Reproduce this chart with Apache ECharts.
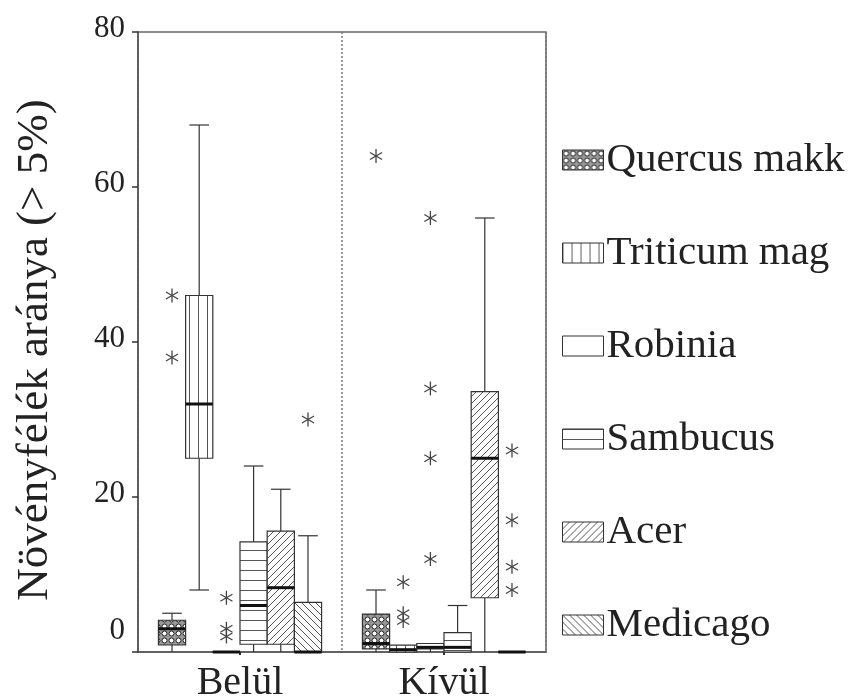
<!DOCTYPE html>
<html><head><meta charset="utf-8">
<script src="https://cdn.jsdelivr.net/npm/echarts@6/dist/echarts.min.js"></script>
<style>html,body{margin:0;padding:0;background:#fff}#c{width:853px;height:697px}</style>
</head><body><div id="c"></div>
<script>
const categories = ['Belül', 'Kívül'];
const species = ['Quercus makk', 'Triticum mag', 'Robinia', 'Sambucus', 'Acer', 'Medicago'];
const yTicks = [0, 20, 40, 60, 80];
// [min, Q1, median, Q3, max] for Belül, Kívül
const quercusBox  = [[0, 0.9, 3, 4.1, 5],    [0, 0.4, 1.1, 4.9, 8]];
const triticumBox = [[8, 25, 32, 46, 68],     [0, 0, 0.3, 0.9, 0.9]];
const robiniaBox  = [[0, 0, 0, 0, 0],         [0, 0.4, 0.6, 1.1, 1.1]];
const sambucusBox = [[0, 1, 6, 14.2, 24],     [0, 0, 0.6, 2.5, 6]];
const acerBox     = [[0, 1, 8.3, 15.6, 21],   [0, 7, 25, 33.6, 56]];
const medicagoBox = [[0, 0, 0, 6.4, 15],      [0, 0, 0, 0, 0]];
// outliers (asterisks) for Belül, Kívül
const quercusOut  = [[46, 38], [64]];
const triticumOut = [[], [9, 5, 4]];
const robiniaOut  = [[7, 3, 2], [56, 34, 25, 12]];
const sambucusOut = [[], []];
const acerOut     = [[], []];
const medicagoOut = [[30], [26, 17, 11, 8]];

const boxes = [quercusBox, triticumBox, robiniaBox, sambucusBox, acerBox, medicagoBox];
const outs = [quercusOut, triticumOut, robiniaOut, sambucusOut, acerOut, medicagoOut];
const kinds = ['dots', 'vline', 'none', 'hline', 'diag', 'diag2'];
const FONT = 'Liberation Serif';
const STROKE = '#333';

function makePattern(kind) {
  const c = document.createElement('canvas');
  let w = 8, h = 8;
  if (kind === 'dots') { w = 7; h = 7; }
  if (kind === 'vline') { w = 9; h = 4; }
  if (kind === 'hline') { w = 4; h = 10; }
  if (kind === 'diag' || kind === 'diag2') { w = 7; h = 7; }
  c.width = w; c.height = h;
  const g = c.getContext('2d');
  g.fillStyle = '#fff'; g.fillRect(0, 0, w, h);
  g.strokeStyle = '#555'; g.lineWidth = 1;
  if (kind === 'dots') {
    g.fillStyle = '#999'; g.fillRect(0, 0, w, h);
    g.beginPath(); g.arc(3.5, 3.5, 2.5, 0, Math.PI * 2);
    g.fillStyle = '#fff'; g.fill(); g.strokeStyle = '#222'; g.stroke();
  } else if (kind === 'vline') {
    g.beginPath(); g.moveTo(0.5, 0); g.lineTo(0.5, h); g.stroke();
  } else if (kind === 'hline') {
    g.beginPath(); g.moveTo(0, 0.5); g.lineTo(w, 0.5); g.stroke();
  } else if (kind === 'diag') {
    g.beginPath();
    g.moveTo(-1, h + 1); g.lineTo(w + 1, -1);
    g.moveTo(-1, 1); g.lineTo(1, -1);
    g.moveTo(w - 1, h + 1); g.lineTo(w + 1, h - 1);
    g.stroke();
  } else if (kind === 'diag2') {
    g.beginPath();
    g.moveTo(-1, -1); g.lineTo(w + 1, h + 1);
    g.moveTo(w - 1, -1); g.lineTo(w + 1, 1);
    g.moveTo(-1, h - 1); g.lineTo(1, h + 1);
    g.stroke();
  }
  if (kind === 'none') return '#fff';
  return { image: c, repeat: 'repeat' };
}
const patterns = kinds.map(makePattern);

function offsetFor(k, band) { return (k - 2.5) * band * 0.1333; }

function boxRender(k) {
  return function (params, api) {
    const cat = api.value(0);
    const band = api.size([1, 0])[0];
    const bw = band * 0.1333;
    const vals = [api.value(1), api.value(2), api.value(3), api.value(4), api.value(5)];
    const p = vals.map(v => api.coord([cat, v]));
    const cx = p[0][0] + offsetFor(k, band);
    const y = p.map(q => q[1]);
    const capW = bw * 0.72;
    const ls = { stroke: STROKE, lineWidth: 1.2 };
    const children = [];
    children.push({ type: 'line', shape: { x1: cx, y1: y[3], x2: cx, y2: y[4] }, style: ls });
    children.push({ type: 'line', shape: { x1: cx, y1: y[1], x2: cx, y2: y[0] }, style: ls });
    if (vals[4] > vals[3]) children.push({ type: 'line', shape: { x1: cx - capW / 2, y1: y[4], x2: cx + capW / 2, y2: y[4] }, style: ls });
    if (vals[0] < vals[1] && vals[0] > 0) children.push({ type: 'line', shape: { x1: cx - capW / 2, y1: y[0], x2: cx + capW / 2, y2: y[0] }, style: ls });
    children.push({ type: 'rect', shape: { x: cx - bw / 2, y: y[3], width: bw, height: Math.max(y[1] - y[3], 0.01) },
      style: { fill: patterns[k], stroke: STROKE, lineWidth: 1.2 } });
    children.push({ type: 'line', shape: { x1: cx - bw / 2, y1: y[2], x2: cx + bw / 2, y2: y[2] }, style: { stroke: '#111', lineWidth: 3 } });
    return { type: 'group', children: children };
  };
}

function starRender(params, api) {
  const cat = api.value(0);
  const k = api.value(1);
  const band = api.size([1, 0])[0];
  const pt = api.coord([cat, api.value(2)]);
  const cx = pt[0] + offsetFor(k, band);
  const cy = pt[1];
  const r = 7;
  const ls = { stroke: '#444', lineWidth: 1.3 };
  const children = [];
  for (let i = 0; i < 3; i++) {
    const a = Math.PI / 2 + i * Math.PI / 3;
    const dx = Math.cos(a) * r, dy = Math.sin(a) * r;
    children.push({ type: 'line', shape: { x1: cx - dx, y1: cy - dy, x2: cx + dx, y2: cy + dy }, style: ls });
  }
  return { type: 'group', children: children };
}

const series = species.map((name, k) => ({
  name: name,
  type: 'custom',
  renderItem: boxRender(k),
  encode: { x: 0, y: [1, 2, 3, 4, 5] },
  itemStyle: { color: patterns[k], borderColor: STROKE, borderWidth: 1 },
  data: categories.map((c, ci) => [ci].concat(boxes[k][ci])),
  z: 2
}));
const starData = [];
outs.forEach((o, k) => o.forEach((arr, ci) => arr.forEach(v => starData.push([ci, k, v]))));
series.push({
  name: 'outliers', type: 'custom', renderItem: starRender,
  encode: { x: 0, y: 2 }, data: starData, z: 3
});

const chart = echarts.init(document.getElementById('c'), null, { renderer: 'canvas' });
chart.setOption({
  animation: false,
  backgroundColor: '#fff',
  grid: { left: 138, right: 307, top: 32, bottom: 45, containLabel: false, outerBoundsMode: 'none',
    show: true, borderColor: '#666', borderWidth: 1.5, backgroundColor: 'transparent' },
  legend: {
    data: species,
    orient: 'vertical',
    left: 557, top: 134,
    itemWidth: 41, itemHeight: 20,
    itemGap: 51,
    icon: 'rect',
    itemStyle: { borderColor: STROKE, borderWidth: 1 },
    textStyle: { fontFamily: FONT, fontSize: 41, color: '#222', lineHeight: 42, padding: [0, 0, 0, -2] },
    selectedMode: false
  },
  xAxis: {
    type: 'category',
    data: categories,
    axisLine: { lineStyle: { color: '#555', width: 1.5 } },
    axisTick: { show: true, alignWithLabel: true, length: 3, lineStyle: { color: '#333', width: 2 } },
    axisLabel: { fontFamily: FONT, fontSize: 40, color: '#222', margin: 11 },
    splitLine: { show: true, interval: 0, lineStyle: { color: '#777', width: 1.5, type: [2, 2] } }
  },
  yAxis: {
    type: 'value', min: yTicks[0], max: yTicks[yTicks.length - 1], interval: 20,
    name: 'Növényfélék aránya (> 5%)',
    nameLocation: 'middle', nameRotate: 90, nameGap: 80,
    nameTextStyle: { fontFamily: FONT, fontSize: 45, color: '#222', padding: [0, 16, 0, 0] },
    axisLine: { show: true, lineStyle: { color: '#555', width: 1.5 } },
    axisTick: { show: true, length: 6, lineStyle: { color: '#333', width: 1.5 } },
    axisLabel: {
      fontFamily: FONT, fontSize: 31, color: '#222', margin: 13,
      formatter: v => v === 0 ? '{z|0}' : '{n|' + v + '}',
      rich: {
        z: { fontFamily: FONT, fontSize: 31, color: '#222', padding: [0, 0, 42, 0] },
        n: { fontFamily: FONT, fontSize: 31, color: '#222', padding: [0, 0, 6, 0] }
      }
    },
    splitLine: { show: false }
  },
  series: series
});
</script>
</body></html>
